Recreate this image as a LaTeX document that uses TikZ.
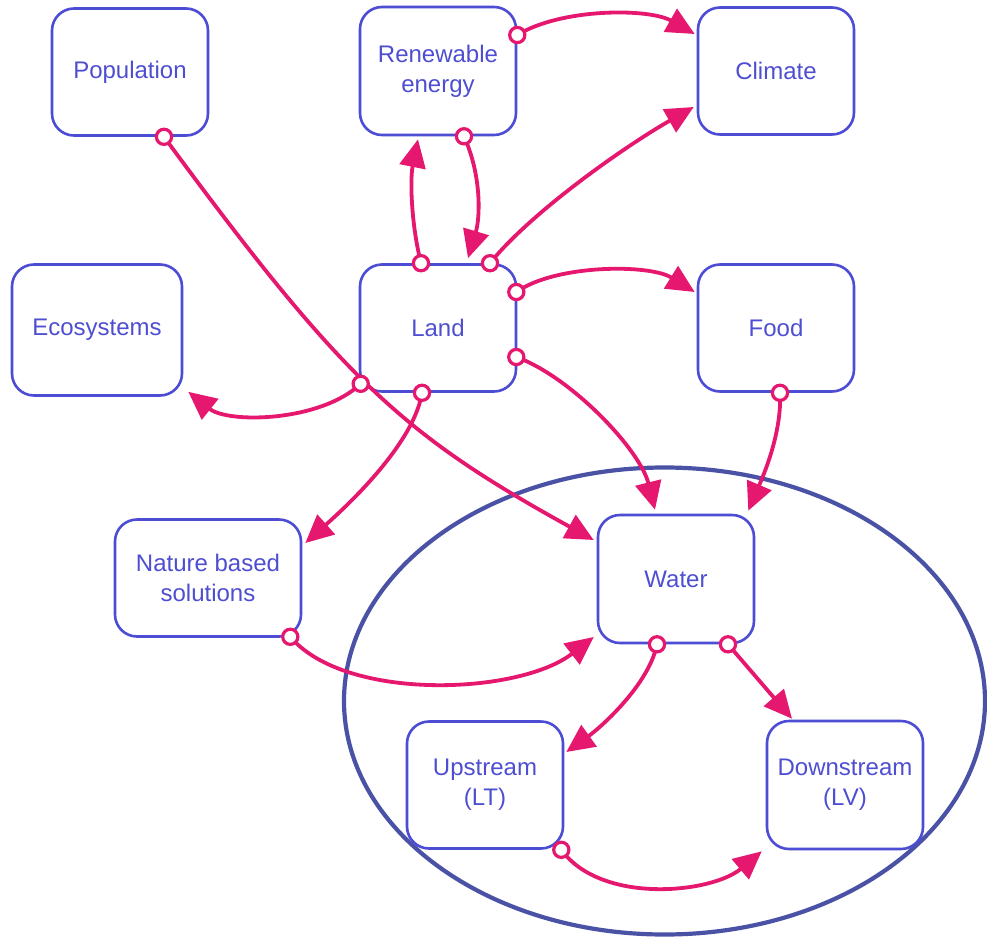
\documentclass[tikz,border=0pt]{standalone}
\usepackage{fontspec}
\setmainfont{Liberation Sans}
\usetikzlibrary{arrows.meta,calc}
\definecolor{linkmag}{RGB}{229,23,111}
\definecolor{boxblue}{RGB}{76,76,212}
\definecolor{textblue}{RGB}{78,78,210}
\definecolor{groupblue}{RGB}{74,82,166}
\begin{document}
\begin{tikzpicture}[x=0.5pt,y=-0.5pt,
  box/.style={draw=boxblue, line width=1.3pt, rounded corners=11pt, fill=white,
    minimum width=78pt, minimum height=63.5pt, align=center, text=textblue,
    font=\fontsize{12}{15}\selectfont, inner sep=2pt},
  link/.style={draw=linkmag, line width=1.9pt, -{Triangle[length=14pt,width=13pt]}},
  port/.style={circle, draw=linkmag, fill=white, line width=1.6pt, inner sep=0pt, minimum size=7.6pt}]

% canvas
\fill[white] (0,0) rectangle (987,938);
\useasboundingbox (0,0) rectangle (987,938);

% water-system group
\draw[groupblue, line width=2.1pt] (664.5,701) ellipse [x radius=160.25pt, y radius=116.75pt];

% sectors
\node[box] (pop) at (130,72) {Population};
\node[box, minimum height=64pt] (ren) at (438,71) {Renewable\\energy};
\node[box] (cli) at (776,71) {Climate};
\node[box, minimum width=85pt, minimum height=65.5pt] (eco) at (97,330) {Ecosystems};
\node[box] (land) at (438,328) {Land};
\node[box] (food) at (776,328) {Food};
\node[box, minimum width=93pt, minimum height=58.5pt] (nbs) at (208,578) {Nature based\\solutions};
\node[box, minimum height=64pt] (water) at (676,579) {Water};
\node[box] (up) at (485,785) {Upstream\\(LT)};
\node[box, minimum height=64pt] (down) at (845,785) {Downstream\\(LV)};

% link origins on the box borders
\coordinate (s1) at ($(ren.east)+(0,-36)$);
\coordinate (s2) at ($(pop.south)+(34,0)$);
\coordinate (s3) at ($(land.north)+(-17,0)$);
\coordinate (s4) at ($(ren.south)+(26,0)$);
\coordinate (s5) at ($(land.north)+(52,0)$);
\coordinate (s6) at ($(land.east)+(-1,-36)$);
\coordinate (s7) at ($(land.south west)+(2,-9)$);
\coordinate (s8) at ($(land.south)+(-16,0)$);
\coordinate (s9) at ($(land.east)+(-1,29)$);
\coordinate (s10) at ($(food.south)+(4,0)$);
\coordinate (s11) at ($(nbs.south east)+(-12,-1)$);
\coordinate (s12) at ($(water.south)+(-19,0)$);
\coordinate (s13) at ($(water.south)+(52,0)$);
\coordinate (s14) at ($(up.south east)+(-3,0)$);

% influences
\draw[link] (s1) .. controls +(44,-27) and +(-46,-26) .. ($(cli.west)+(-2,-37)$);
\draw[link] (s2) .. controls +(180,245) and +(-190,-105) .. ($(water.west)+(-3,-39)$);
\draw[link] (s3) .. controls +(-10,-40) and +(-8,40) .. ($(ren.south)+(-20,3)$);
\draw[link] (s4) .. controls +(18,40) and +(12,-40) .. ($(land.north)+(30,-5)$);
\draw[link] (s5) .. controls +(40,-50) and +(-70,40) .. ($(cli.west)+(-3,36)$);
\draw[link] (s6) .. controls +(40,-28) and +(-45,-28) .. ($(food.west)+(-2,-36)$);
\draw[link] (s7) .. controls +(-40,38) and +(40,32) .. ($(eco.south east)+(5,-5)$);
\draw[link] (s8) .. controls +(-8,50) and +(45,-40) .. ($(nbs.east)+(3,-35)$);
\draw[link] (s9) .. controls +(55,20) and +(-15,-60) .. ($(water.north)+(-21,-4)$);
\draw[link] (s10) .. controls +(2,40) and +(15,-35) .. ($(water.north east)+(-7,-3)$);
\draw[link] (s11) .. controls +(55,65) and +(-75,58) .. ($(water.west)+(-3,58)$);
\draw[link] (s12) .. controls +(-8,40) and +(35,-25) .. ($(up.east)+(2,-33)$);
\draw[link] (s13) -- ($(down.north)+(-53,-1)$);
\draw[link] (s14) .. controls +(40,55) and +(-50,42) .. ($(down.south west)+(-4,1)$);

% open circles marking where each link leaves its source
\foreach \s in {s1,s2,s3,s4,s5,s6,s7,s8,s9,s10,s11,s12,s13,s14}
  \node[port] at (\s) {};
\end{tikzpicture}
\end{document}
